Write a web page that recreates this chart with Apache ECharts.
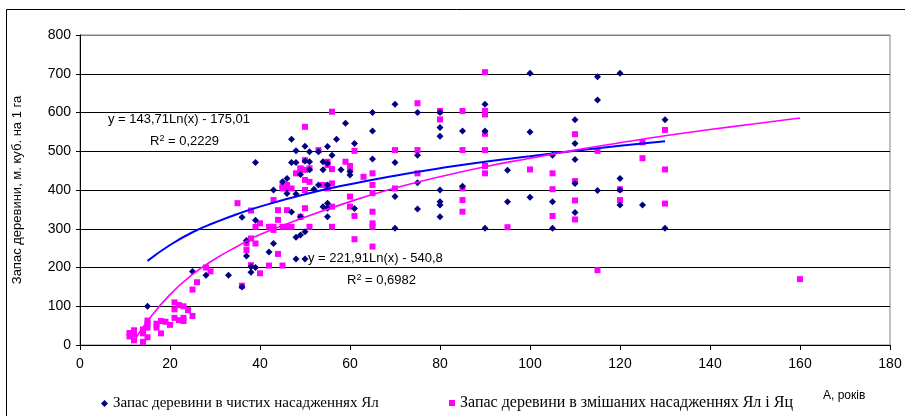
<!DOCTYPE html>
<html>
<head>
<meta charset="utf-8">
<script src="https://cdn.jsdelivr.net/npm/echarts@6/dist/echarts.min.js"></script>
<style>
html, body { margin: 0; padding: 0; background: #fff; }
#chart { width: 905px; height: 416px; }
</style>
</head>
<body>
<div id="chart"></div>
<script>
// ---- data: [age, stock] ----
var pureStands = [
  [15,100],[25,190],[28,180],[33,180],
  [36,150],[36,330],[37,270],[37,230],[38,202],[38,188],[39,200],[39,322],[39,471],
  [42,240],[43,262],[43,400],[45,421],[46,430],[46,391],[47,531],[47,471],[47,343],[48,390],
  [48,471],[48,501],[48,222],[48,278],[49,284],[49,440],[50,292],[49,331],[50,222],[50,513],[50,475],
  [51,499],[51,452],[51,473],[52,402],[53,499],[53,413],[54,473],[54,452],[54,357],
  [55,366],[55,331],[55,413],[55,512],[55,469],[56,490],[55,353],
  [57,531],[58,452],[59,572],[60,439],[60,447],[61,520],[61,352],
  [65,600],[65,552],[65,480],
  [70,621],[70,471],[70,383],[70,301],
  [75,600],[75,490],[75,419],[75,351],
  [80,600],[80,561],[80,539],[80,400],[80,370],[80,361],[80,331],
  [85,552],[85,410],
  [90,621],[90,552],[90,301],
  [95,451],[95,370],
  [100,701],[100,550],[100,381],
  [105,490],[105,370],[105,301],
  [110,581],[110,520],[110,479],[110,417],[110,342],
  [115,692],[115,632],[115,399],
  [120,701],[120,430],[120,400],[120,361],
  [125,361],
  [130,581],[130,301]
];

var mixedStands = [
  [11,31],[11,22],[12,38],[12,12],[12,28],[14,40],[14,30],[14,8],[15,55],[15,20],[15,45],[15,63],
  [17,55],[17,45],[18,30],[18,62],[19,60],[20,52],[21,110],[21,92],[21,70],[22,103],[22,64],
  [23,100],[23,70],[23,62],[24,90],[25,75],[25,143],[26,162],[28,200],[29,190],
  [35,366],[36,153],[37,262],[37,245],[38,347],[38,275],[38,206],[39,262],[39,305],[40,314],
  [40,185],[42,305],[42,205],[43,305],[43,297],[43,374],[44,348],[44,323],[44,235],[45,404],
  [45,205],[45,305],[45,410],[46,407],[46,348],[46,305],[46,413],[47,305],[47,404],[48,443],
  [49,456],[49,454],[49,331],[50,563],[50,477],
  [50,452],[50,426],[50,400],[50,353],[51,305],[51,456],[51,421],[53,503],[54,413],[55,473],
  [55,464],[55,408],[55,404],[56,602],[56,454],[56,417],[56,357],[56,305],[59,473],[60,462],
  [60,454],[60,383],[60,357],[61,501],[61,333],[61,273],[63,434],[65,443],[65,392],[65,344],
  [65,314],[65,305],[65,254],[65,413],
  [70,503],[70,404],[75,624],[75,503],[75,443],[80,604],[80,582],[85,604],[85,503],[85,404],
  [85,374],[85,344],[90,704],[90,604],[90,595],[90,545],[90,503],[90,462],[90,443],
  [95,304],[100,453],[105,443],[105,402],[105,333],[110,544],[110,423],[110,373],[110,324],
  [115,501],[115,193],[120,402],[120,374],[125,523],[125,482],[130,555],[130,453],[130,365],
  [160,170]
];

// trend lines
var pureTrend = [
  [15,217],[20,258],[25,291],[30,316],[35,338],[40,357],[50,389],[60,415],[70,437],
  [80,456],[90,473],[100,487],[110,501],[120,514],[130,526]
];
var mixedTrend = [
  [12,10],[15,62],[20,130],[25,182],[30,222],[35,255],[40,285],[50,330],[60,370],[70,405],
  [80,434],[90,460],[100,482],[110,503],[120,522],[130,540],[140,556],[150,571],[160,586]
];

var seriesNames = ['Запас деревини в чистих насадженнях Ял', 'Запас деревини в змішаних насадженнях Ял і Яц'];
var yTitle = 'Запас деревини, м. куб. на 1 га';
var xTitle = 'А, років';

var sans = 'Liberation Sans';
var serif = 'Liberation Serif';

var option = {
  backgroundColor: '#fff',
  animation: false,
  grid: {
    left: 80, right: 15, top: 35, bottom: 71,
    show: true,
    borderColor: '#808080',
    borderWidth: 1
  },
  legend: [
    {
      data: [{ name: seriesNames[0], icon: 'diamond' }],
      left: 96, top: 391,
      itemWidth: 7, itemHeight: 7, itemGap: 0,
      textStyle: { fontFamily: serif, fontSize: 15, color: '#000' }
    },
    {
      data: [{ name: seriesNames[1], icon: 'rect' }],
      left: 444, top: 390,
      itemWidth: 6, itemHeight: 6, itemGap: 0,
      textStyle: { fontFamily: serif, fontSize: 16, color: '#000' }
    }
  ],
  xAxis: {
    type: 'value',
    min: 0, max: 180, interval: 20,
    axisLine: { lineStyle: { color: '#000' } },
    axisTick: { show: true, length: 5, lineStyle: { color: '#000' } },
    axisLabel: { fontFamily: sans, fontSize: 14, color: '#000', margin: 12 },
    splitLine: { show: false }
  },
  yAxis: {
    type: 'value',
    min: 0, max: 800, interval: 100,
    name: yTitle,
    nameLocation: 'middle',
    nameGap: 56,
    nameTextStyle: { fontFamily: sans, fontSize: 13, color: '#000' },
    axisLine: { show: true, lineStyle: { color: '#000' } },
    axisTick: { show: true, length: 4, lineStyle: { color: '#000' } },
    axisLabel: { fontFamily: sans, fontSize: 14, color: '#000', margin: 9 },
    splitLine: {
      show: true,
      lineStyle: { color: ['#000','#000','#000','#000','#000','#000','#000','#000','#808080'], width: 1 }
    }
  },
  series: [
    {
      name: seriesNames[1],
      type: 'scatter',
      symbol: 'rect',
      symbolSize: 6,
      itemStyle: { color: '#FF00FF', opacity: 1 },
      data: mixedStands,
      z: 2
    },
    {
      name: seriesNames[0],
      type: 'scatter',
      symbol: 'diamond',
      symbolSize: 7,
      itemStyle: { color: '#000080', opacity: 1 },
      data: pureStands,
      z: 3
    },
    {
      name: 'pureTrend',
      type: 'line',
      smooth: true,
      symbol: 'none',
      lineStyle: { color: '#0000FF', width: 2 },
      data: pureTrend,
      z: 4
    },
    {
      name: 'mixedTrend',
      type: 'line',
      smooth: true,
      symbol: 'none',
      lineStyle: { color: '#FF00FF', width: 1.6 },
      data: mixedTrend,
      z: 4
    }
  ],
  graphic: [
    // frame round the figure
    { type: 'rect', shape: { x: 6.5, y: 9.5, width: 920, height: 420 },
      style: { fill: 'none', stroke: '#000', lineWidth: 1 }, silent: true },
    { type: 'text', left: 108, top: 113,
      style: { text: 'y = 143,71Ln(x) - 175,01', font: '13px ' + sans, fill: '#000' } },
    { type: 'text', left: 150, top: 134,
      style: { text: 'R{s|2} = 0,2229', font: '13px ' + sans, fill: '#000',
        rich: { s: { fontSize: 9, fontFamily: sans, verticalAlign: 'top', padding: [0, 0, 6, 0] } } } },
    { type: 'text', left: 308, top: 252,
      style: { text: 'y = 221,91Ln(x) - 540,8', font: '13px ' + sans, fill: '#000' } },
    { type: 'text', left: 347, top: 273,
      style: { text: 'R{s|2} = 0,6982', font: '13px ' + sans, fill: '#000',
        rich: { s: { fontSize: 9, fontFamily: sans, verticalAlign: 'top', padding: [0, 0, 6, 0] } } } },
    { type: 'text', left: 823, top: 390,
      style: { text: xTitle, font: '12px ' + sans, fill: '#000' } }
  ]
};

var chart = echarts.init(document.getElementById('chart'));
chart.setOption(option);
</script>
</body>
</html>
